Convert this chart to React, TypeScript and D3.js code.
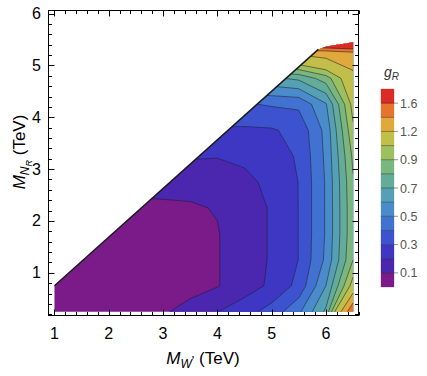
import * as d3 from "d3";
import React, { useEffect, useRef } from "react";

// grid columns (M_W') and rows (M_NR), TeV
const mW = [1, 1.5, 2, 2.5, 3, 3.5, 4, 4.5, 5, 5.5, 6, 6.5];
const mN = [0.25, 0.75, 1.25, 1.75, 2.25, 2.75, 3.25, 3.75, 4.25, 4.75, 5.25, 5.75];

// g_R, one row per M_N value (points above the diagonal get clipped)
const gR = [
  [0.04, 0.05, 0.06, 0.07, 0.09, 0.13, 0.198, 0.26, 0.34, 0.48, 0.72, 1.58],
  [0.03, 0.035, 0.04, 0.045, 0.05, 0.07, 0.095, 0.15, 0.22, 0.33, 0.6, 1.05],
  [0.03, 0.03, 0.035, 0.04, 0.05, 0.07, 0.095, 0.15, 0.21, 0.302, 0.52, 0.9],
  [0.03, 0.03, 0.035, 0.04, 0.05, 0.07, 0.095, 0.15, 0.21, 0.302, 0.51, 0.88],
  [0.08, 0.08, 0.08, 0.08, 0.085, 0.09, 0.105, 0.15, 0.21, 0.302, 0.51, 0.88],
  [0.13, 0.13, 0.13, 0.13, 0.13, 0.13, 0.14, 0.17, 0.23, 0.302, 0.51, 0.89],
  [0.21, 0.21, 0.21, 0.21, 0.21, 0.21, 0.205, 0.225, 0.26, 0.31, 0.52, 0.92],
  [0.29, 0.29, 0.29, 0.29, 0.29, 0.29, 0.285, 0.285, 0.29, 0.33, 0.53, 0.98],
  [0.39, 0.39, 0.39, 0.39, 0.39, 0.39, 0.39, 0.39, 0.41, 0.42, 0.59, 1.04],
  [0.68, 0.68, 0.68, 0.68, 0.68, 0.68, 0.68, 0.68, 0.68, 0.72, 0.85, 1.12],
  [1.25, 1.25, 1.25, 1.25, 1.25, 1.25, 1.25, 1.25, 1.25, 1.25, 1.3, 1.38],
  [3.0, 3.0, 3.0, 3.0, 3.0, 3.0, 3.0, 3.0, 3.0, 3.0, 3.0, 3.0],
];

// allowed region (below the diagonal)
const edgeW = [1, 1, 5.86, 6.0, 6.2, 6.35, 6.5, 6.5];
const edgeN = [0.25, 0.75, 5.31, 5.36, 5.4, 5.42, 5.45, 0.25];

const thresholds = [0.1, 0.2, 0.3, 0.4, 0.5, 0.6, 0.7, 0.8, 0.9, 1.0, 1.2, 1.4, 1.6];
const bandColors = [
  "#7a1b89", "#4b26af", "#3e37c4", "#3d52cf", "#4172d2", "#4a8ccb", "#56a0b5",
  "#63ac9a", "#7ab77f", "#9cbf60", "#c1bf4a", "#e0a93c", "#e8732f", "#dc2a26",
];
const barLabels = [0.1, 0.3, 0.5, 0.7, 0.9, 1.2, 1.6];
const xTicks = [1, 2, 3, 4, 5, 6];
const yTicks = [1, 2, 3, 4, 5, 6];

const font = "'Liberation Sans', Arial, sans-serif";

const App = () => {
  const svgRef = useRef<SVGSVGElement>(null);

  useEffect(() => {
    const svg = d3.select(svgRef.current);
    svg.selectAll("*").remove();

    const left = 48.5, right = 358.5, top = 10.5, bottom = 315.5;
    const x = d3.scaleLinear().domain([0.89, 6.6]).range([left, right]);
    const y = d3.scaleLinear().domain([0.176, 6.06]).range([bottom, top]);

    // contour bands
    const nx = mW.length, ny = mN.length;
    const dW = mW[1] - mW[0], dN = mN[1] - mN[0];
    const bands = d3.contours().size([nx, ny]).thresholds([-1, ...thresholds])(gR.flat());
    const proj = d3.geoTransform({
      point(px, py) {
        this.stream.point(x(mW[0] + (px - 0.5) * dW), y(mN[0] + (py - 0.5) * dN));
      },
    });
    const path = d3.geoPath(proj);

    const regionPts = edgeW.map((w, i) => [x(w), y(edgeN[i])] as [number, number]);
    svg
      .append("defs")
      .append("clipPath")
      .attr("id", "region")
      .append("path")
      .attr("d", d3.line()(regionPts) + "Z");

    const plot = svg.append("g").attr("clip-path", "url(#region)");
    plot
      .selectAll("path.band")
      .data(bands)
      .join("path")
      .attr("class", "band")
      .attr("d", path)
      .attr("fill", (d, i) => bandColors[i])
      .attr("stroke", (d, i) => bandColors[i])
      .attr("stroke-width", 0.3);

    plot
      .selectAll("path.level")
      .data(bands.slice(1))
      .join("path")
      .attr("class", "level")
      .attr("d", path)
      .attr("fill", "none")
      .attr("stroke", "#1e1e2a")
      .attr("stroke-opacity", 0.6)
      .attr("stroke-width", 0.9);

    // dark diagonal edge
    svg
      .append("path")
      .attr("d", d3.line()(regionPts.slice(1, 3)))
      .attr("stroke", "#1c1c1c")
      .attr("stroke-width", 1.5)
      .attr("fill", "none");

    // frame with inward ticks
    svg
      .append("rect")
      .attr("x", left)
      .attr("y", top)
      .attr("width", right - left)
      .attr("height", bottom - top)
      .attr("fill", "none")
      .attr("stroke", "#000")
      .attr("stroke-width", 1);

    const xMinor = d3.range(1, 6.61, 0.2).map((v) => Math.round(v * 10) / 10);
    const yMinor = d3.range(0.2, 6.05, 0.2).map((v) => Math.round(v * 10) / 10);
    const isMajor = (v) => Math.abs(v - Math.round(v)) < 1e-6;
    const ticks = svg.append("g").attr("stroke", "#000").attr("stroke-width", 1);
    xMinor.forEach((v) => {
      const len = isMajor(v) ? 6 : 3.5;
      const px = Math.round(x(v)) + 0.5;
      ticks.append("line").attr("x1", px).attr("x2", px).attr("y1", bottom).attr("y2", bottom - len);
      ticks.append("line").attr("x1", px).attr("x2", px).attr("y1", top).attr("y2", top + len);
    });
    yMinor.forEach((v) => {
      const len = isMajor(v) ? 6 : 3.5;
      const py = Math.round(y(v)) + 0.5;
      ticks.append("line").attr("y1", py).attr("y2", py).attr("x1", left).attr("x2", left + len);
      ticks.append("line").attr("y1", py).attr("y2", py).attr("x1", right).attr("x2", right - len);
    });

    svg
      .selectAll("text.xt")
      .data(xTicks)
      .join("text")
      .attr("class", "xt")
      .attr("x", (d) => x(d))
      .attr("y", 339)
      .attr("text-anchor", "middle")
      .style("font-family", font)
      .style("font-size", "16px")
      .text((d) => d);

    svg
      .selectAll("text.yt")
      .data(yTicks)
      .join("text")
      .attr("class", "yt")
      .attr("x", 41)
      .attr("y", (d) => y(d) + 5.5)
      .attr("text-anchor", "end")
      .style("font-family", font)
      .style("font-size", "16px")
      .text((d) => d);

    // axis titles
    const xt = svg
      .append("text")
      .attr("x", 203)
      .attr("y", 364)
      .attr("text-anchor", "middle")
      .style("font-family", font)
      .style("font-size", "17px");
    xt.append("tspan").style("font-style", "italic").text("M");
    xt.append("tspan").attr("dy", 4).style("font-size", "12px").style("font-style", "italic").text("W");
    xt.append("tspan").attr("dy", -3).style("font-size", "13px").text("'");
    xt.append("tspan").attr("dy", -1).text(" (TeV)");

    const yt = svg
      .append("text")
      .attr("transform", "translate(25,152) rotate(-90)")
      .attr("text-anchor", "middle")
      .style("font-family", font)
      .style("font-size", "17px");
    yt.append("tspan").style("font-style", "italic").text("M");
    yt.append("tspan").attr("dy", 4).style("font-size", "12px").style("font-style", "italic").text("N");
    yt.append("tspan").attr("dy", 3).style("font-size", "9px").style("font-style", "italic").text("R");
    yt.append("tspan").attr("dy", -7).text(" (TeV)");

    // colour bar legend
    const barX = 381, barW = 13;
    const yb = d3.scaleLinear().domain([0, bandColors.length]).range([287, 89]);
    const bar = svg.append("g");
    bar
      .selectAll("rect")
      .data(bandColors)
      .join("rect")
      .attr("x", barX)
      .attr("y", (d, i) => yb(i + 1))
      .attr("width", barW)
      .attr("height", (d, i) => yb(i) - yb(i + 1))
      .attr("fill", (d) => d)
      .attr("stroke", (d) => d)
      .attr("stroke-width", 0.3);
    bar
      .selectAll("line.sep")
      .data(thresholds)
      .join("line")
      .attr("class", "sep")
      .attr("x1", barX)
      .attr("x2", barX + barW)
      .attr("y1", (d, i) => yb(i + 1))
      .attr("y2", (d, i) => yb(i + 1))
      .attr("stroke", "#222")
      .attr("stroke-opacity", 0.55)
      .attr("stroke-width", 0.8);
    const labelY = (v) => yb(thresholds.indexOf(v) + 1);
    bar
      .selectAll("line.tk")
      .data(barLabels)
      .join("line")
      .attr("class", "tk")
      .attr("x1", barX + barW)
      .attr("x2", barX + barW + 4)
      .attr("y1", labelY)
      .attr("y2", labelY)
      .attr("stroke", "#777")
      .attr("stroke-width", 0.8);
    bar
      .selectAll("text")
      .data(barLabels)
      .join("text")
      .attr("x", barX + barW + 6)
      .attr("y", (d) => labelY(d) + 4.5)
      .style("font-family", font)
      .style("font-size", "12.5px")
      .attr("fill", "#555")
      .text((d) => d3.format(".1f")(d));

    const gl = svg
      .append("text")
      .attr("x", 384)
      .attr("y", 77)
      .style("font-family", font)
      .style("font-size", "14px")
      .attr("fill", "#333");
    gl.append("tspan").style("font-style", "italic").text("g");
    gl.append("tspan").attr("dy", 3).style("font-size", "10px").style("font-style", "italic").text("R");

    return () => {
      d3.select(svgRef.current).selectAll("*").remove();
    };
  }, []);

  return (
    <svg
      ref={svgRef}
      width={427}
      height={376}
      style={{ position: "absolute", left: 0, top: 0, background: "#fff" }}
    ></svg>
  );
};

export default App;
